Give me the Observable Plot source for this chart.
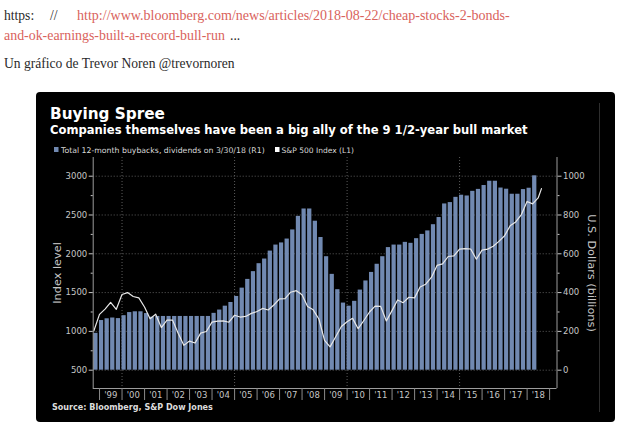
<!DOCTYPE html>
<html>
<head>
<meta charset="utf-8">
<script src="https://cdn.jsdelivr.net/npm/d3@7"></script>
<script src="https://cdn.jsdelivr.net/npm/@observablehq/plot@0.6"></script>
<style>
html,body{margin:0;padding:0;background:#fff;}
body{width:635px;height:433px;position:relative;overflow:hidden;}
#panel{position:absolute;left:36px;top:92px;width:579px;height:330px;background:#000;border-radius:4px;}
#edge{position:absolute;left:599px;top:103px;width:1px;height:309px;background:#2e2e2e;}
#plot{position:absolute;left:36px;top:152px;}
#plot svg{overflow:visible;}
#texts{position:absolute;left:0;top:0;}
</style>
</head>
<body>
<div id="panel"></div>
<div id="edge"></div>
<div id="plot"></div>
<svg id="texts" width="635" height="433"></svg>
<script>
// ---------- data ----------
const quarters = [
  "1998Q3","1998Q4",
  "1999Q1","1999Q2","1999Q3","1999Q4",
  "2000Q1","2000Q2","2000Q3","2000Q4",
  "2001Q1","2001Q2","2001Q3","2001Q4",
  "2002Q1","2002Q2","2002Q3","2002Q4",
  "2003Q1","2003Q2","2003Q3","2003Q4",
  "2004Q1","2004Q2","2004Q3","2004Q4",
  "2005Q1","2005Q2","2005Q3","2005Q4",
  "2006Q1","2006Q2","2006Q3","2006Q4",
  "2007Q1","2007Q2","2007Q3","2007Q4",
  "2008Q1","2008Q2","2008Q3","2008Q4",
  "2009Q1","2009Q2","2009Q3","2009Q4",
  "2010Q1","2010Q2","2010Q3","2010Q4",
  "2011Q1","2011Q2","2011Q3","2011Q4",
  "2012Q1","2012Q2","2012Q3","2012Q4",
  "2013Q1","2013Q2","2013Q3","2013Q4",
  "2014Q1","2014Q2","2014Q3","2014Q4",
  "2015Q1","2015Q2","2015Q3","2015Q4",
  "2016Q1","2016Q2","2016Q3","2016Q4",
  "2017Q1","2017Q2","2017Q3","2017Q4",
  "2018Q1"
];
// Total 12-month buybacks + dividends, US$ billions (right axis)
const buybacks = [
  190,256,265,269,266,281,297,301,301,292,
  273,277,277,277,277,277,277,277,277,277,
  277,293,310,330,349,380,423,468,508,549,
  573,614,645,656,676,723,793,831,831,768,
  684,585,494,415,346,330,355,413,460,504,
  546,585,632,645,645,659,654,678,700,718,
  750,787,857,864,891,902,898,922,932,952,
  974,974,939,933,907,907,931,938,1002
];
// S&P 500 index level (left axis): quarter ends, then two later dates
const spxExtraDates = ["2018-06-29","2018-08-22"];
const spx = [
  1005,1220,1287,1373,1285,1475,1500,1450,1432,1315,
  1162,1222,1050,1145,1145,975,820,875,850,978,
  998,1120,1133,1135,1118,1208,1185,1193,1232,1256,
  1296,1276,1340,1420,1422,1505,1525,1472,1322,1278,
  1160,885,800,930,1062,1125,1168,1035,1140,1250,
  1326,1322,1135,1268,1405,1370,1440,1432,1572,1608,
  1695,1850,1870,1965,1972,2060,2066,2062,1930,2047,
  2060,2098,2160,2232,2360,2410,2505,2674,2643,
  2720,2840
];
const years = [1999,2000,2001,2002,2003,2004,2005,2006,2007,2008,2009,2010,2011,2012,2013,2014,2015,2016,2017,2018];
const yearLabels = ["'99","'00","'01","'02","'03","'04","'05","'06","'07","'08","'09","'10","'11","'12","'13","'14","'15","'16","'17","'18"];
const gridYears = [2000,2005,2010,2015];
const leftTicks = [500,1000,1500,2000,2500,3000];
const leftMinor = [750,1250,1750,2250,2750];
const rightTicks = [0,200,400,600,800,1000];

// ---------- helpers ----------
const toLeft = v => 500 + v * 2.5;           // billions -> index-level units
const quarterEnd = s => new Date(Date.UTC(+s.slice(0,4), +s.slice(5) * 3, 0));
const parse = d3.utcParse("%Y-%m-%d");
const jan1 = y => new Date(Date.UTC(y, 0, 1));
const midYear = y => new Date(Date.UTC(y, 6, 2));

const barData = quarters.map((q, i) => {
  const start = quarterEnd(q);
  return {start, end: d3.utcMonth.offset(start, 3), value: buybacks[i]};
});
const lineDates = quarters.map(quarterEnd).concat(spxExtraDates.map(parse));
const lineData = lineDates.map((d, i) => ({date: d, value: spx[i]}));

const xDomain = [new Date(Date.UTC(1998, 8, 20)), new Date(Date.UTC(2019, 4, 1))];
const yDomain = [264, 3241];
const axisColor = "#9c9c9c";

const chart = Plot.plot({
  width: 578, height: 260,
  marginLeft: 56.7, marginRight: 57.5, marginTop: 5, marginBottom: 24,
  style: {background: "transparent", color: "#c6c6c6", fontFamily: "DejaVu Sans", fontSize: "8.5px", overflow: "visible"},
  x: {type: "utc", domain: xDomain},
  y: {domain: yDomain},
  marks: [
    Plot.gridY(leftTicks, {stroke: "#5c5c5c", strokeOpacity: 1, strokeDasharray: "1,2"}),
    Plot.gridX(gridYears.map(jan1), {stroke: "#5c5c5c", strokeOpacity: 1, strokeDasharray: "1,2"}),
    Plot.rect(barData, {x1: "start", x2: "end", y1: () => toLeft(0), y2: d => toLeft(d.value), fill: "#7189b1", insetRight: 1.4}),
    Plot.line(lineData, {x: "date", y: "value", stroke: "#e8e8e8", strokeWidth: 1.2}),
    Plot.ruleX(xDomain, {y1: yDomain[0], y2: yDomain[1], stroke: axisColor}),
    Plot.ruleY([yDomain[0]], {stroke: axisColor}),
    Plot.axisY({anchor: "left", ticks: leftTicks, tickSize: 4, tickPadding: 2, label: null, tickFormat: d => String(d)}),
    Plot.axisY({anchor: "left", ticks: leftMinor, tickSize: 2, tickFormat: () => "", label: null}),
    Plot.axisY({anchor: "right", ticks: rightTicks.map(toLeft), tickFormat: d => String(Math.round((d - 500) / 2.5)), tickSize: 4, tickPadding: 2, label: null}),
    Plot.axisY({anchor: "right", ticks: leftMinor, tickSize: 2, tickFormat: () => "", label: null}),
    Plot.axisX({ticks: years.concat([2019]).map(jan1), tickSize: 12, tickFormat: () => "", label: null, stroke: "#8a8a8a"}),
    Plot.axisX({ticks: years.map(midYear), tickSize: 0, tickPadding: 3, label: null,
      tickFormat: d => yearLabels[years.indexOf(d.getUTCFullYear())]}),
    Plot.text(["Index level"], {frameAnchor: "left", dx: -36, rotate: -90, textAnchor: "middle", fontSize: 11.3, fill: "#c6c6c6"}),
    Plot.text(["U.S. Dollars (billions)"], {frameAnchor: "right", dx: 35, rotate: 90, textAnchor: "middle", fontSize: 11.3, fill: "#c6c6c6"})
  ]
});
document.getElementById("plot").appendChild(chart);

// ---------- text overlay (page text, title, subtitle, legend, source) ----------
const ctx = document.createElement("canvas").getContext("2d");
function fit(str, family, weight, width) {
  ctx.font = `${weight} 100px "${family}"`;
  return 100 * width / ctx.measureText(str).width;
}
const svg = d3.select("#texts");
function addText(str, x, y, o) {
  const weight = o.weight || "normal";
  const size = o.size || fit(str, o.family, weight, o.width);
  svg.append("text").attr("x", x).attr("y", y)
    .attr("font-family", o.family).attr("font-weight", weight)
    .attr("font-size", size).attr("fill", o.fill).text(str);
  return size;
}
const serif = "Liberation Serif";
const sz = fit("Un gráfico de Trevor Noren @trevornoren", serif, "normal", 231);
addText("https:", 4, 20, {family: serif, size: sz, fill: "#2a2a2a"});
addText("//", 50, 20, {family: serif, size: sz, fill: "#2a2a2a"});
addText("http://www.bloomberg.com/news/articles/2018-08-22/cheap-stocks-2-bonds-", 77, 20, {family: serif, width: 433, fill: "#d9625c"});
addText("and-ok-earnings-built-a-record-bull-run", 4, 39.5, {family: serif, width: 221, fill: "#d9625c"});
addText("...", 230, 39.5, {family: serif, size: sz, fill: "#2a2a2a"});
addText("Un gráfico de Trevor Noren @trevornoren", 4, 68, {family: serif, size: sz, fill: "#2a2a2a"});

const sans = "DejaVu Sans";
addText("Buying Spree", 50, 118.5, {family: sans, weight: "bold", width: 115, fill: "#ffffff"});
addText("Companies themselves have been a big ally of the 9 1/2-year bull market", 50, 134, {family: sans, weight: "bold", width: 478, fill: "#ffffff"});
svg.append("rect").attr("x", 54).attr("y", 147).attr("width", 4.5).attr("height", 5).attr("fill", "#7189b1");
addText("Total 12-month buybacks, dividends on 3/30/18 (R1)", 61, 153, {family: sans, width: 204, fill: "#d8d8d8"});
svg.append("rect").attr("x", 275).attr("y", 147).attr("width", 4.5).attr("height", 5).attr("fill", "#ffffff");
addText("S&P 500 Index  (L1)", 281.5, 153, {family: sans, width: 75, fill: "#d8d8d8"});
addText("Source: Bloomberg, S&P Dow Jones", 52, 409.5, {family: sans, weight: "bold", width: 161, fill: "#dcdcdc"});
</script>
</body>
</html>
